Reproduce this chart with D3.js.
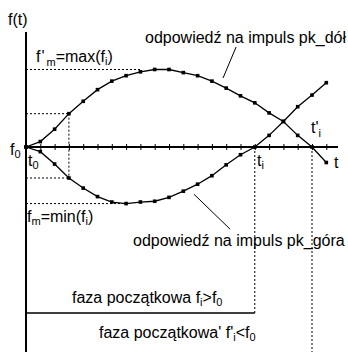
<!DOCTYPE html>
<html><head><meta charset="utf-8">
<script src="https://cdn.jsdelivr.net/npm/d3@7"></script>
<style>
html,body{margin:0;padding:0;background:#fff;}
svg text{font-family:"Liberation Sans",Arial,sans-serif;font-size:16px;fill:#000;}
</style></head>
<body>
<svg id="c" width="348" height="352"></svg>
<script>
// sample index (time steps t0 ... ) along the t axis
const steps = d3.range(0, 22);
// response to pk_dół impulse (normalised, f0 = 0)
const upperResp = [0, 0.07, 0.23, 0.43, 0.59, 0.74, 0.85, 0.92, 0.97, 1.0, 1.0, 0.96, 0.92, 0.85, 0.76, 0.66, 0.57, 0.44, 0.33, 0.15, 0.0, -0.2];
// response to pk_góra impulse
const lowerResp = [0, -0.06, -0.22, -0.40, -0.53, -0.64, -0.71, -0.73, -0.71, -0.70, -0.65, -0.57, -0.48, -0.37, -0.23, -0.10, 0.0, 0.15, 0.33, 0.52, 0.67, 0.83];
const t0Idx = 1, guideIdx = 3, tiIdx = 16, tiPrimeIdx = 20;

const svg = d3.select("#c");
const x = d3.scaleLinear().domain([0, 21]).range([26, 326.3]);
const y = d3.scaleLinear().domain([-1, 1]).range([147 + 77.5, 147 - 77.5]);

const dot = "2,2";
function hline(yv, x1, x2, dash, w) {
  svg.append("line").attr("x1", x1).attr("x2", x2).attr("y1", yv).attr("y2", yv)
    .attr("stroke", "#000").attr("stroke-width", w || 1).attr("stroke-dasharray", dash || null);
}
function vline(xv, y1, y2, dash, w) {
  svg.append("line").attr("x1", xv).attr("x2", xv).attr("y1", y1).attr("y2", y2)
    .attr("stroke", "#000").attr("stroke-width", w || 1).attr("stroke-dasharray", dash || null);
}

// guide dotted lines
const maxV = d3.max(upperResp), maxI = upperResp.indexOf(maxV);
const minV = d3.min(lowerResp), minI = lowerResp.indexOf(minV);
hline(y(maxV), 26, x(maxI - 1), dot);
hline(y(minV), 26, x(minI), dot);
hline(y(upperResp[guideIdx]), 26, x(guideIdx), dot);
hline(y(lowerResp[guideIdx]), 26, x(guideIdx), dot);
vline(x(guideIdx), y(upperResp[guideIdx]), y(lowerResp[guideIdx]), dot);
vline(x(tiIdx), y(0), 313, dot);
vline(x(tiPrimeIdx), y(0), 352, dot);

// axes
vline(26, 32, 352, null, 2);
hline(y(0), 25, 338, null, 2);
const axisG = svg.append("g").attr("transform", `translate(0,${y(0)})`)
  .call(d3.axisBottom(x).tickValues(d3.range(1, 22)).tickSize(6).tickFormat(""));
axisG.select(".domain").remove();
axisG.selectAll(".tick line").attr("y1", -3).attr("y2", 3).attr("stroke-width", 1);

// phase line
hline(313, 26, x(tiIdx), null, 1.5);

// curves
const line = d3.line().x((d, i) => x(steps[i])).y(d => y(d));
[upperResp, lowerResp].forEach(s => {
  svg.append("path").attr("d", line(s)).attr("fill", "none").attr("stroke", "#000").attr("stroke-width", 1.3);
  svg.append("g").selectAll("rect").data(s).join("rect")
    .attr("x", (d, i) => x(steps[i]) - 1.8).attr("y", d => y(d) - 1.8)
    .attr("width", 3.6).attr("height", 3.6).attr("fill", "#000");
});

// leader lines (data units)
const leaders = [[[14.69, 1.29], [13.78, 0.89]], [[11.75, -0.61], [14.27, -1.06]]];
leaders.forEach(([a, b]) => {
  svg.append("line").attr("x1", x(a[0])).attr("y1", y(a[1])).attr("x2", x(b[0])).attr("y2", y(b[1]))
    .attr("stroke", "#000").attr("stroke-width", 1);
});

// labels
function label(xp, yp, parts) {
  const t = svg.append("text").attr("x", xp).attr("y", yp);
  parts.forEach(p => {
    const s = t.append("tspan").text(p.t);
    if (p.dy) s.attr("dy", p.dy);
    if (p.dx) s.attr("dx", p.dx);
    if (p.sub) s.style("font-size", "11px");
  });
  return t;
}
label(8, 25, [{t: "f(t)"}]);
label(145, 43, [{t: "odpowiedź na impuls pk_dół"}]);
label(133, 246, [{t: "odpowiedź na impuls pk_góra"}]);
label(36, 62, [{t: "f"}, {t: "'", dx: 1}, {t: "m", sub: 1, dy: 4, dx: 2}, {t: "=max(f", dy: -4}, {t: "i", sub: 1, dy: 3}, {t: ")", dy: -3}]);
label(27, 222, [{t: "f"}, {t: "m", sub: 1, dy: 3}, {t: "=min(f", dy: -3}, {t: "i", sub: 1, dy: 3}, {t: ")", dy: -3}]);
label(10, 155, [{t: "f"}, {t: "0", sub: 1, dy: 3}]);
label(28, 166, [{t: "t"}, {t: "0", sub: 1, dy: 3}]);
label(257, 166, [{t: "t"}, {t: "i", sub: 1, dy: 3}]);
label(311, 133, [{t: "t'"}, {t: "i", sub: 1, dy: 4}]);
label(334, 168, [{t: "t"}]);
label(72, 303, [{t: "faza początkowa  f"}, {t: "i", sub: 1, dy: 3}, {t: ">f", dy: -3}, {t: "0", sub: 1, dy: 3}]);
label(99, 338, [{t: "faza początkowa'  f'"}, {t: "i", sub: 1, dy: 3}, {t: "<f", dy: -3}, {t: "0", sub: 1, dy: 3}]);
</script>
</body></html>
